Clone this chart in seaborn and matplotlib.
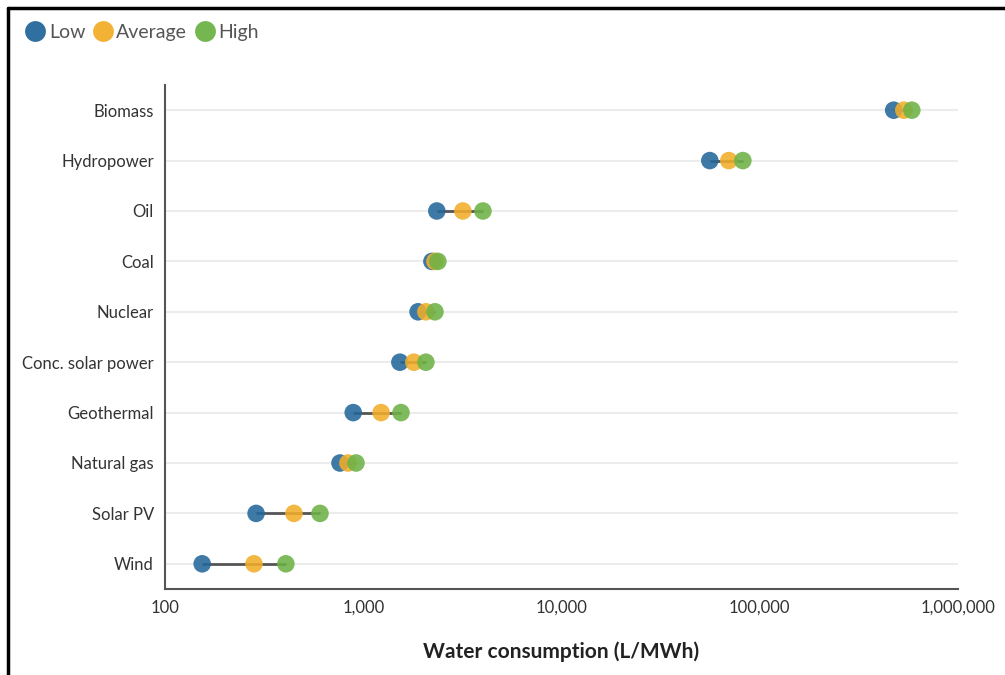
import pandas as pd
import numpy as np
import matplotlib.pyplot as plt
import matplotlib.ticker as mticker
from matplotlib.lines import Line2D
import seaborn as sns

# Water consumption by power source (L/MWh)
sources = ["Biomass", "Hydropower", "Oil", "Coal", "Nuclear",
           "Conc. solar power", "Geothermal", "Natural gas", "Solar PV", "Wind"]
low = [474000, 56000, 2350, 2220, 1890, 1530, 890, 763, 288, 154]
average = [533000, 69800, 3180, 2300, 2070, 1800, 1230, 837, 447, 281]
high = [585000, 82200, 4015, 2380, 2300, 2070, 1550, 919, 605, 407]

levels = ["Low", "Average", "High"]
colors = {"Low": "#24689b", "Average": "#f2ae2a", "High": "#6db246"}

df = pd.DataFrame({"Source": sources, "Low": low, "Average": average, "High": high})
long_df = df.melt(id_vars="Source", value_vars=levels, var_name="Level", value_name="Water")

sns.set_style("white")
plt.rcParams['font.family'] = ['Lato', 'DejaVu Sans']

fig = plt.figure(figsize=(10.05, 6.75), dpi=100)
ax = fig.add_axes([0.1642, 0.1274, 0.7890, 0.7467])

# light horizontal guide lines
for i in range(len(sources)):
    ax.axhline(i, color="#ececec", lw=1.5, zorder=0)

# connecting line from low to high
ax.hlines(y=df["Source"], xmin=df["Low"], xmax=df["High"], color="#555555", lw=2, zorder=1)

sns.scatterplot(data=long_df, x="Water", y="Source", hue="Level", hue_order=levels,
                palette=colors, s=160, alpha=0.88, edgecolor="none", legend=False,
                ax=ax, zorder=2)

ax.set_xscale("log")
ax.set_xlim(100, 1000000)
ax.set_ylim(len(sources) - 0.5, -0.5)
ax.xaxis.set_major_locator(mticker.FixedLocator([100, 1000, 10000, 100000, 1000000]))
ax.xaxis.set_major_formatter(mticker.FuncFormatter(lambda v, p: f"{int(v):,}"))
ax.xaxis.set_minor_locator(mticker.NullLocator())

ax.set_xlabel("Water consumption (L/MWh)", fontsize=15, fontweight="bold",
              color="#222222", labelpad=18)
ax.set_ylabel("")
ax.tick_params(axis="both", labelsize=12, colors="#333333", length=4, width=1, pad=4)
ax.tick_params(axis="both", color="#555555")

for side in ["top", "right"]:
    ax.spines[side].set_visible(False)
for side in ["left", "bottom"]:
    ax.spines[side].set_color("#555555")
    ax.spines[side].set_linewidth(1.5)

# legend at top-left
handles = [Line2D([0], [0], marker="o", color="none", markerfacecolor=colors[l],
                  markeredgecolor="none", markersize=15, alpha=0.95, label=l) for l in levels]
fig.legend(handles=handles, loc="upper left", bbox_to_anchor=(0.006, 0.99), ncol=3,
           frameon=False, fontsize=14, handletextpad=0.1, columnspacing=0.3,
           handlelength=1.2, labelcolor="#555555")

# border fragment from the source image
fig.add_artist(Line2D([0.008, 0.008], [0, 0.988], color="black", lw=2.5, transform=fig.transFigure))
fig.add_artist(Line2D([0.008, 1.0], [0.988, 0.988], color="black", lw=2.5, transform=fig.transFigure))

fig.savefig("out.png", dpi=100)
